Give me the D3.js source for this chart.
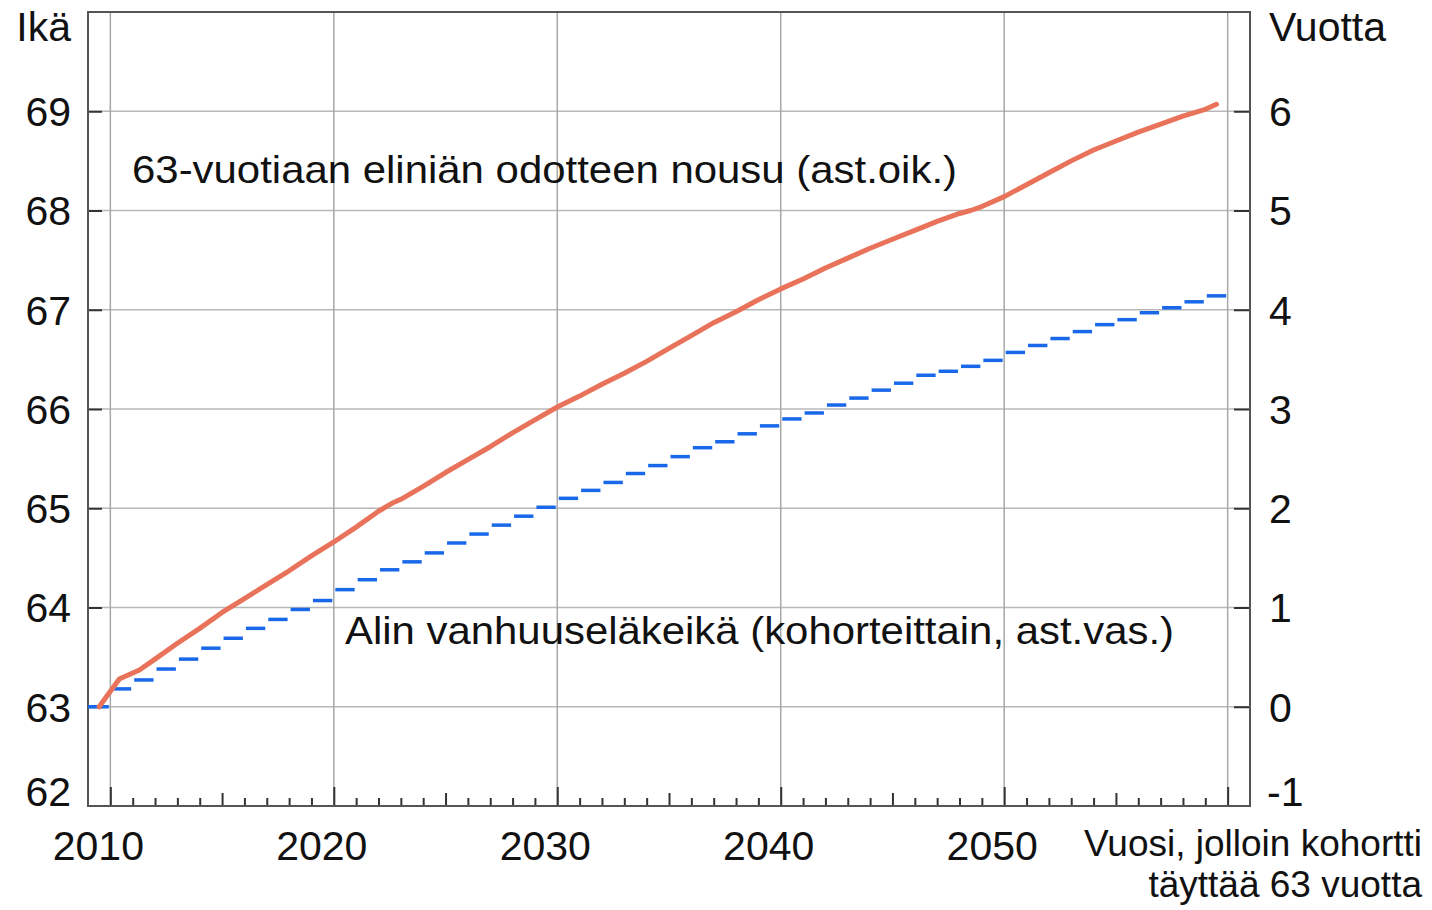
<!DOCTYPE html>
<html>
<head>
<meta charset="utf-8">
<script src="https://cdn.jsdelivr.net/npm/d3@7"></script>
<style>
  body { margin: 0; background: #fff; }
  text { font-family: "Liberation Sans", Arial, sans-serif; fill: #111; }
</style>
</head>
<body>
<div id="chart"></div>
<script>
// minimum old-age pension age by cohort (left axis, age)
var stepYears = [2009, 2010, 2011, 2012, 2013, 2014, 2015, 2016, 2017, 2018,
    2019, 2020, 2021, 2022, 2023, 2024, 2025, 2026, 2027, 2028,
    2029, 2030, 2031, 2032, 2033, 2034, 2035, 2036, 2037, 2038,
    2039, 2040, 2041, 2042, 2043, 2044, 2045, 2046, 2047, 2048,
    2049, 2050, 2051, 2052, 2053, 2054, 2055, 2056, 2057, 2058, 2059];
var stepAges = [63.00, 63.18, 63.27, 63.38, 63.48, 63.59, 63.69, 63.79, 63.88, 63.98,
    64.07, 64.18, 64.28, 64.38, 64.46, 64.55, 64.65, 64.74, 64.83, 64.92,
    65.01, 65.10, 65.18, 65.26, 65.35, 65.43, 65.52, 65.61, 65.67, 65.75,
    65.83, 65.90, 65.96, 66.04, 66.11, 66.19, 66.26, 66.34, 66.38, 66.43,
    66.49, 66.57, 66.64, 66.71, 66.78, 66.85, 66.90, 66.97, 67.02, 67.08, 67.14];

// rise of life expectancy at 63 (right axis, years)
var lifeYears = [2009.5, 2010.4, 2011.3, 2012, 2013, 2014, 2015, 2016, 2017, 2018,
    2019, 2020, 2021, 2022, 2022.6, 2023, 2024, 2025, 2026, 2027,
    2028, 2029, 2030, 2031, 2032, 2033, 2034, 2035, 2036,
    2037, 2038, 2039, 2040, 2041, 2042, 2043, 2044, 2045, 2046,
    2047, 2048, 2048.5, 2049, 2050, 2051, 2052, 2053, 2054, 2055,
    2056, 2057, 2058, 2059, 2059.5];
var lifeRise = [0.00, 0.28, 0.37, 0.48, 0.64, 0.79, 0.95, 1.09, 1.23, 1.37,
    1.52, 1.66, 1.81, 1.97, 2.05, 2.09, 2.22, 2.36, 2.49, 2.62,
    2.76, 2.89, 3.02, 3.13, 3.25, 3.36, 3.48, 3.61, 3.74,
    3.87, 3.98, 4.10, 4.21, 4.31, 4.42, 4.52, 4.62, 4.71, 4.80,
    4.89, 4.97, 5.00, 5.04, 5.14, 5.26, 5.38, 5.50, 5.61, 5.70,
    5.79, 5.87, 5.95, 6.02, 6.07];

var leftTicks = [62, 63, 64, 65, 66, 67, 68, 69];
var rightTicks = [-1, 0, 1, 2, 3, 4, 5, 6];
var xLabels = [2010, 2020, 2030, 2040, 2050];
var gridYears = [2010, 2020, 2030, 2040, 2050, 2060];
var tickYears = [2010, 2011, 2012, 2013, 2014, 2015, 2016, 2017, 2018, 2019,
    2020, 2021, 2022, 2023, 2024, 2025, 2026, 2027, 2028, 2029,
    2030, 2031, 2032, 2033, 2034, 2035, 2036, 2037, 2038, 2039,
    2040, 2041, 2042, 2043, 2044, 2045, 2046, 2047, 2048, 2049,
    2050, 2051, 2052, 2053, 2054, 2055, 2056, 2057, 2058, 2059, 2060];

(function () {
    var width = 1432,
        height = 910;
    var plotL = 88, plotR = 1250, plotT = 12, plotB = 806;

    var x = d3.scaleLinear().domain([2009, 2061]).range([plotL, plotR]);
    var yL = d3.scaleLinear().domain([62, 70]).range([plotB, plotT]);
    var yR = d3.scaleLinear().domain([-1, 7]).range([plotB, plotT]);

    var svg = d3.select("#chart")
        .append("svg")
        .attr("width", width)
        .attr("height", height);

    svg.append("rect").attr("width", width).attr("height", height).attr("fill", "#fff");

    // grid
    svg.append("g").selectAll("line")
        .data(leftTicks.filter(function (d) { return d > 62; }))
        .enter().append("line")
        .attr("x1", plotL).attr("x2", plotR)
        .attr("y1", yL).attr("y2", yL)
        .attr("stroke", "#b8b8b8").attr("stroke-width", 1.5);

    svg.append("g").selectAll("line")
        .data(gridYears)
        .enter().append("line")
        .attr("x1", x).attr("x2", x)
        .attr("y1", plotT).attr("y2", plotB)
        .attr("stroke", "#a8a8a8").attr("stroke-width", 1.5);

    // ticks
    var gl = svg.append("g").attr("transform", "translate(" + plotL + ",0)")
        .call(d3.axisRight(yL).tickValues([63, 64, 65, 66, 67, 68, 69]).tickSize(14).tickFormat(""));
    var gr = svg.append("g").attr("transform", "translate(" + plotR + ",0)")
        .call(d3.axisLeft(yR).tickValues([0, 1, 2, 3, 4, 5, 6]).tickSize(16).tickFormat(""));
    var gx = svg.append("g").attr("transform", "translate(0," + plotB + ")")
        .call(d3.axisTop(x).tickValues(tickYears).tickSize(8).tickFormat(""));
    gx.selectAll(".tick line")
        .attr("y2", function (d) { return d % 10 == 0 ? -19 : (d % 5 == 0 ? -13 : -8); });
    [gl, gr, gx].forEach(function (g) {
        g.select(".domain").remove();
        g.selectAll(".tick line").attr("stroke", "#333").attr("stroke-width", 2);
    });

    // frame
    svg.append("rect")
        .attr("x", plotL).attr("y", plotT)
        .attr("width", plotR - plotL).attr("height", plotB - plotT)
        .attr("fill", "none").attr("stroke", "#555").attr("stroke-width", 2);

    // blue steps
    svg.append("g").selectAll("line")
        .data(stepYears)
        .enter().append("line")
        .attr("x1", function (d, i) { return i == 0 ? x(d) : x(d) + 1.5; })
        .attr("x2", function (d) { return x(d + 1) - 1.5; })
        .attr("y1", function (d, i) { return yL(stepAges[i]); })
        .attr("y2", function (d, i) { return yL(stepAges[i]); })
        .attr("stroke", "#1968ea").attr("stroke-width", 3.5);

    // red line
    var line = d3.line()
        .x(function (d, i) { return x(lifeYears[i]); })
        .y(function (d) { return yR(d); });
    svg.append("path")
        .attr("d", line(lifeRise))
        .attr("fill", "none")
        .attr("stroke", "#e8735a")
        .attr("stroke-width", 5)
        .attr("stroke-linejoin", "round")
        .attr("stroke-linecap", "round");

    // axis labels
    svg.append("g").selectAll("text")
        .data(leftTicks)
        .enter().append("text")
        .attr("x", 71)
        .attr("y", function (d) { return d == 62 ? yL(d) - 15 : yL(d); })
        .attr("dy", "0.36em")
        .attr("text-anchor", "end")
        .attr("font-size", 41)
        .text(function (d) { return d; });

    svg.append("g").selectAll("text")
        .data(rightTicks)
        .enter().append("text")
        .attr("x", function (d) { return d < 0 ? 1267 : 1269; })
        .attr("y", function (d) { return d == -1 ? yR(d) - 15 : yR(d); })
        .attr("dy", "0.36em")
        .attr("font-size", 41)
        .text(function (d) { return d; });

    svg.append("g").selectAll("text")
        .data(xLabels)
        .enter().append("text")
        .attr("x", function (d) { return x(d) - 12; })
        .attr("y", 860)
        .attr("text-anchor", "middle")
        .attr("font-size", 41)
        .text(function (d) { return d; });

    svg.append("text").attr("x", 71).attr("y", 41).attr("text-anchor", "end")
        .attr("font-size", 41).text("Ikä");
    svg.append("text").attr("x", 1269).attr("y", 41)
        .attr("font-size", 41).text("Vuotta");

    svg.append("text").attr("x", 1422).attr("y", 856).attr("text-anchor", "end")
        .attr("font-size", 37).text("Vuosi, jolloin kohortti");
    svg.append("text").attr("x", 1422).attr("y", 897).attr("text-anchor", "end")
        .attr("font-size", 37).text("täyttää 63 vuotta");

    // series annotations
    svg.append("text").attr("x", 132).attr("y", 183)
        .attr("font-size", 39)
        .attr("textLength", 825).attr("lengthAdjust", "spacingAndGlyphs")
        .text("63-vuotiaan eliniän odotteen nousu (ast.oik.)");
    svg.append("text").attr("x", 345).attr("y", 644)
        .attr("font-size", 39)
        .attr("textLength", 829).attr("lengthAdjust", "spacingAndGlyphs")
        .text("Alin vanhuuseläkeikä (kohorteittain, ast.vas.)");
})();
</script>
</body>
</html>
